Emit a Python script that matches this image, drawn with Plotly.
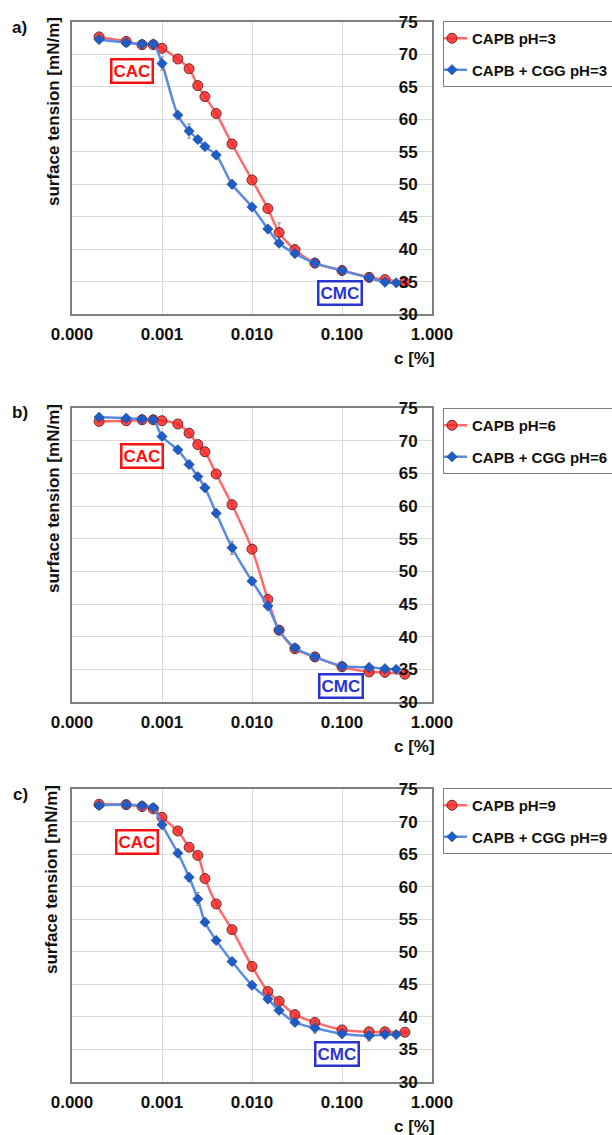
import plotly.graph_objects as go

# Concentration of surfactant solution, c [%]
conc = [0.0002, 0.0004, 0.0006, 0.0008, 0.001, 0.0015, 0.002, 0.0025, 0.003, 0.004,
        0.006, 0.01, 0.015, 0.02, 0.03, 0.05, 0.1, 0.2, 0.3, 0.5]
conc_cgg = [0.0002, 0.0004, 0.0006, 0.0008, 0.001, 0.0015, 0.002, 0.0025, 0.003, 0.004,
            0.006, 0.01, 0.015, 0.02, 0.03, 0.05, 0.1, 0.2, 0.3, 0.4]

# Surface tension [mN/m]
capb_ph3 = [72.7, 72.0, 71.5, 71.5, 70.95, 69.3, 67.8, 65.2, 63.5, 60.9,
            56.2, 50.65, 46.25, 42.55, 39.9, 37.85, 36.7, 35.65, 35.3, 34.85]
capb_cgg_ph3 = [72.3, 71.8, 71.6, 71.6, 68.6, 60.65, 58.2, 56.9, 55.8, 54.5,
                50.0, 46.5, 43.1, 40.9, 39.3, 37.85, 36.7, 35.6, 34.9, 34.8]
capb_ph6 = [72.95, 73.05, 73.2, 73.2, 73.05, 72.55, 71.15, 69.4, 68.3, 64.9,
            60.2, 53.4, 45.7, 41.0, 38.15, 36.9, 35.4, 34.6, 34.55, 34.25]
capb_cgg_ph6 = [73.6, 73.45, 73.3, 73.2, 70.65, 68.6, 66.35, 64.5, 62.8, 58.9,
                53.6, 48.5, 44.7, 41.0, 38.3, 36.9, 35.5, 35.3, 35.1, 35.0]
capb_ph9 = [72.65, 72.6, 72.3, 71.95, 70.65, 68.55, 66.05, 64.8, 61.25, 57.35,
            53.4, 47.75, 43.9, 42.4, 40.35, 39.15, 38.0, 37.7, 37.7, 37.65]
capb_cgg_ph9 = [72.45, 72.6, 72.45, 72.15, 69.5, 65.15, 61.45, 58.1, 54.55, 51.75,
                48.5, 44.85, 42.75, 41.0, 39.15, 38.3, 37.4, 37.1, 37.3, 37.3]

# Standard deviations
err_ph3 = [0.3, 0.3, 0.2, 0.2, 0.3, 0.3, 0.3, 0.3, 0.3, 0.3,
           0.3, 0.3, 0.3, 1.5, 0.8, 0.3, 0.2, 0.2, 0.2, 0.2]
err_cgg_ph3 = [0.2, 0.3, 0.2, 0.2, 1.0, 0.3, 1.1, 0.3, 0.3, 0.3,
               0.6, 0.3, 0.3, 0.3, 0.3, 0.2, 0.2, 0.2, 0.2, 0.2]
err_ph6 = [0.2, 0.2, 0.2, 0.2, 0.2, 0.2, 0.2, 0.3, 0.3, 0.3,
           0.3, 0.3, 0.3, 0.3, 0.3, 0.2, 0.2, 0.3, 0.7, 0.3]
err_cgg_ph6 = [0.2, 0.2, 0.2, 0.2, 0.3, 0.3, 0.3, 0.3, 0.5, 0.3,
               1.0, 0.3, 0.3, 0.3, 0.3, 0.2, 0.2, 0.2, 0.2, 0.2]
err_ph9 = [0.2, 0.2, 0.2, 0.2, 0.3, 0.3, 0.3, 0.3, 0.3, 0.3,
           0.3, 0.3, 0.3, 0.3, 0.3, 0.3, 0.2, 0.2, 0.2, 0.2]
err_cgg_ph9 = [0.2, 0.2, 0.2, 0.2, 0.4, 0.3, 0.6, 1.0, 0.3, 0.3,
               0.3, 0.3, 0.3, 0.3, 0.4, 0.8, 0.3, 0.8, 0.3, 0.2]

panel_labels = ["a)", "b)", "c)"]
series_names = [("CAPB pH=3", "CAPB + CGG pH=3"),
                ("CAPB pH=6", "CAPB + CGG pH=6"),
                ("CAPB pH=9", "CAPB + CGG pH=9")]
x_tick_vals = [0.0001, 0.001, 0.01, 0.1, 1.0]
x_tick_text = ["0.000", "0.001", "0.010", "0.100", "1.000"]
y_tick_vals = [30, 35, 40, 45, 50, 55, 60, 65, 70, 75]

W, H = 612, 1135
FONT = "Liberation Sans, Arial, sans-serif"
RED_LINE = "#FF6A6A"
RED_FILL = "rgba(255,40,40,0.85)"
BLUE_LINE = "#5A8BE0"
BLUE_FILL = "#1E5CC8"
GRID = "#D9D9D9"
AXIS = "#7F7F7F"

# pixel geometry of the three panels: (top, bottom)
panels_px = [(22, 314), (408, 702), (789, 1082)]
x_left, x_right = 72, 432
legend_top = [21, 408, 788]
cac_pos = [(132, 71), (142, 456), (137, 842)]
cmc_pos = [(340, 293), (341, 686), (337, 1054)]
label_pos = [(19, 27), (20, 412), (20, 794)]
ytitle_pos = [(53, 112), (53, 499), (51, 880)]

red_sets = [capb_ph3, capb_ph6, capb_ph9]
blue_sets = [capb_cgg_ph3, capb_cgg_ph6, capb_cgg_ph9]
red_errs = [err_ph3, err_ph6, err_ph9]
blue_errs = [err_cgg_ph3, err_cgg_ph6, err_cgg_ph9]


def px(xp):
    return xp / W


def py(yp):
    return 1 - yp / H


fig = go.Figure()
annotations = []
layout = {}

for i in range(3):
    n = "" if i == 0 else str(i + 1)
    xa, ya = "x" + n, "y" + n
    lg = "legend" + n
    top, bottom = panels_px[i]

    fig.add_trace(go.Scatter(
        x=conc, y=red_sets[i], name=series_names[i][0], mode="lines+markers",
        xaxis=xa, yaxis=ya, legend=lg, legendgroup="r" + n,
        line=dict(color=RED_LINE, width=2.5, shape="spline", smoothing=0.8),
        marker=dict(symbol="circle", size=10, color=RED_FILL,
                    line=dict(color="#6E2A2A", width=1)),
        error_y=dict(type="data", array=red_errs[i], color="#8C8C8C",
                     thickness=1, width=2),
    ))
    fig.add_trace(go.Scatter(
        x=conc_cgg, y=blue_sets[i], name=series_names[i][1], mode="lines+markers",
        xaxis=xa, yaxis=ya, legend=lg, legendgroup="b" + n,
        line=dict(color=BLUE_LINE, width=2.5, shape="spline", smoothing=0.8),
        marker=dict(symbol="diamond", size=8, color=BLUE_FILL,
                    line=dict(color="#1A3A7A", width=0.5)),
        error_y=dict(type="data", array=blue_errs[i], color="#8C8C8C",
                     thickness=1, width=2),
    ))

    layout["xaxis" + n] = dict(
        type="log", range=[-4, 0], domain=[px(x_left), px(x_right)],
        anchor=ya, tickvals=x_tick_vals, ticktext=x_tick_text,
        showgrid=True, gridcolor=GRID, gridwidth=1,
        showline=True, mirror=True, linecolor=AXIS, linewidth=1.5,
        ticks="", ticklabelstandoff=4,
        tickfont=dict(family=FONT, size=17, color="#111111", weight="bold"),
        zeroline=False,
    )
    layout["yaxis" + n] = dict(
        range=[30, 75], domain=[py(bottom), py(top)], anchor=xa,
        side="right", tickvals=y_tick_vals, ticklabelposition="inside",
        ticklabelstandoff=15, ticklabeloverflow="allow",
        showgrid=True, gridcolor=GRID, gridwidth=1,
        showline=True, mirror=True, linecolor=AXIS, linewidth=1.5,
        ticks="", zeroline=False,
        tickfont=dict(family=FONT, size=17, color="#111111", weight="bold"),
    )
    layout[lg] = dict(
        x=px(443), y=py(legend_top[i]), xanchor="left", yanchor="top",
        xref="paper", yref="paper",
        bordercolor=AXIS, borderwidth=1, bgcolor="white",
        font=dict(family=FONT, size=15, color="#111111", weight="bold"),
        tracegroupgap=9, traceorder="grouped", itemwidth=30,
        indentation=-12,
    )

    annotations += [
        dict(text="CAC", x=px(cac_pos[i][0]), y=py(cac_pos[i][1]),
             xref="paper", yref="paper", showarrow=False,
             xanchor="center", yanchor="middle",
             font=dict(family=FONT, size=17, color="#FF1010", weight="bold"),
             bordercolor="#FF1010", borderwidth=2.5, borderpad=1, bgcolor="white"),
        dict(text="CMC", x=px(cmc_pos[i][0]), y=py(cmc_pos[i][1]),
             xref="paper", yref="paper", showarrow=False,
             xanchor="center", yanchor="middle",
             font=dict(family=FONT, size=17, color="#2A35D0", weight="bold"),
             bordercolor="#2A35D0", borderwidth=2.5, borderpad=1, bgcolor="white"),
        dict(text=panel_labels[i], x=px(label_pos[i][0]), y=py(label_pos[i][1]),
             xref="paper", yref="paper", showarrow=False,
             xanchor="center", yanchor="middle",
             font=dict(family=FONT, size=17, color="#111111", weight="bold")),
        dict(text="surface tension [mN/m]", x=px(ytitle_pos[i][0]),
             y=py(ytitle_pos[i][1]), xref="paper", yref="paper",
             xanchor="center", yanchor="middle",
             showarrow=False, textangle=-90,
             font=dict(family=FONT, size=17, color="#111111", weight="bold")),
        dict(text="c [%]", x=px(414), y=py(bottom + 44),
             xref="paper", yref="paper", showarrow=False,
             xanchor="center", yanchor="middle",
             font=dict(family=FONT, size=17, color="#111111", weight="bold")),
    ]

fig.update_layout(
    width=W, height=H, autosize=False,
    margin=dict(l=0, r=0, t=0, b=0, autoexpand=False),
    paper_bgcolor="white", plot_bgcolor="white",
    annotations=annotations,
    **layout,
)

fig.write_html("out.html")
